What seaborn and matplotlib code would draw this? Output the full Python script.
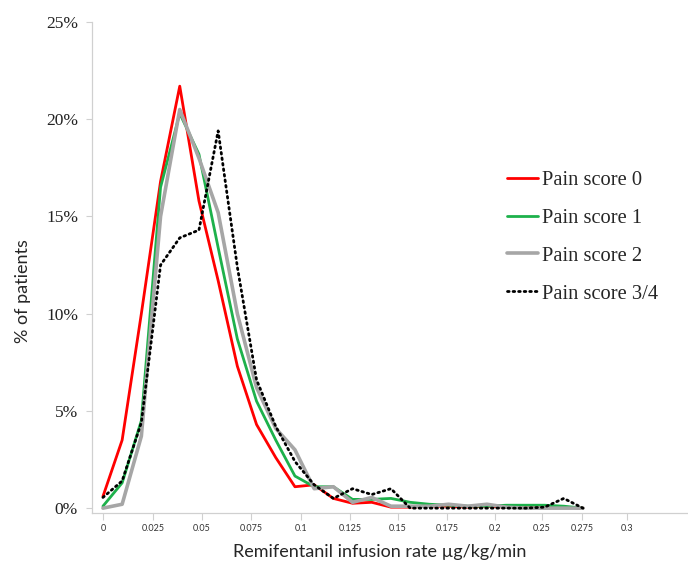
import numpy as np
import pandas as pd
import matplotlib
matplotlib.use("Agg")
import matplotlib.pyplot as plt
import seaborn as sns

sns.set_style("white")

# infusion rate bins (µg/kg/min), one point every 0.01
rate = [round(0.01 * k, 2) for k in range(26)]

pain0 = [0.6, 3.5, 10.0, 16.8, 21.7, 15.8, 11.7, 7.3, 4.3, 2.6, 1.1, 1.2, 0.5,
         0.25, 0.3, 0.05, 0.05, 0.1, 0.1, 0.05, 0.1, 0.05, 0.05, 0.05, 0.05, 0.0]
pain1 = [0.1, 1.3, 4.5, 16.5, 20.3, 18.2, 13.4, 8.7, 5.5, 3.5, 1.65, 1.1, 1.1,
         0.45, 0.45, 0.5, 0.3, 0.2, 0.15, 0.1, 0.1, 0.15, 0.15, 0.15, 0.1, 0.0]
pain2 = [0.0, 0.2, 3.7, 15.0, 20.5, 18.0, 15.2, 10.0, 6.2, 4.1, 3.0, 1.0, 1.1,
         0.3, 0.55, 0.1, 0.1, 0.1, 0.2, 0.1, 0.2, 0.05, 0.0, 0.0, 0.0, 0.0]
pain34 = [0.55, 1.4, 4.4, 12.5, 13.9, 14.3, 19.4, 12.4, 6.6, 4.2, 2.4, 1.2, 0.5,
          1.0, 0.7, 1.0, 0.0, 0.0, 0.0, 0.0, 0.0, 0.0, 0.0, 0.05, 0.5, 0.0]

series_names = ["Pain score 0", "Pain score 1", "Pain score 2", "Pain score 3/4"]
colors = ["#FF0000", "#1DB14B", "#A6A6A6", "#000000"]

# tick labels as printed on the original axis (not evenly spaced past 0.2)
tick_labels = ["0", "0.025", "0.05", "0.075", "0.1", "0.125", "0.15",
               "0.175", "0.2", "0.25", "0.275", "0.3"]
tick_pos = [0, 0.026, 0.0516, 0.0771, 0.1031, 0.1286, 0.1536,
            0.1792, 0.2042, 0.2286, 0.2495, 0.2729]

df = pd.DataFrame({
    "rate": rate * 4,
    "pct": pain0 + pain1 + pain2 + pain34,
    "score": np.repeat(series_names, len(rate)),
})

fig = plt.figure(figsize=(6.88, 5.63), dpi=100)
ax = fig.add_axes([92 / 688, 1 - 513 / 563, 596 / 688, 491 / 563])

sns.lineplot(data=df, x="rate", y="pct", hue="score", style="score",
             palette=dict(zip(series_names, colors)),
             dashes={"Pain score 0": "", "Pain score 1": "", "Pain score 2": "",
                     "Pain score 3/4": (0.6, 1.4)},
             linewidth=2, ax=ax, legend=False)

for line, lw in zip(ax.lines, [2.0, 2.0, 2.6, 2.0]):
    line.set_linewidth(lw)
ax.lines[3].set_dash_capstyle("round")

ax.set_xlim(-0.0057, 0.3047)
ax.set_ylim(-0.25, 25)

ax.set_yticks([0, 5, 10, 15, 20, 25])
ax.set_yticklabels([f"{v}%" for v in [0, 5, 10, 15, 20, 25]],
                   family="Liberation Serif", fontsize=12.5)
ax.set_xticks(tick_pos)
ax.set_xticklabels(tick_labels, family="Lato", fontsize=6.5)

ax.tick_params(axis="y", which="major", direction="out", length=4, width=0.8,
               color="#D0D0D0", pad=6, left=True, labelcolor="#222222")
ax.tick_params(axis="x", which="major", direction="out", length=5, width=0.8,
               color="#D0D0D0", pad=3, bottom=True, labelcolor="#333333")

for side in ["top", "right"]:
    ax.spines[side].set_visible(False)
for side in ["left", "bottom"]:
    ax.spines[side].set_color("#D0D0D0")
    ax.spines[side].set_linewidth(0.9)

ax.set_xlabel("Remifentanil infusion rate µg/kg/min", family="Lato",
              fontsize=13)
ax.xaxis.set_label_coords(0.482, -0.064)
ax.set_ylabel("% of patients", family="Lato", fontsize=13)
ax.yaxis.set_label_coords(-0.102, 0.452)

handles = ax.lines[:4]
ax.legend(handles, series_names, frameon=False, loc="upper left",
          bbox_to_anchor=(0.696, 0.6976), borderpad=0, borderaxespad=0,
          handlelength=1.5, handletextpad=0.2, labelspacing=0.9,
          prop={"family": "Liberation Serif", "size": 14.8})

plt.savefig("out.png", dpi=100)
